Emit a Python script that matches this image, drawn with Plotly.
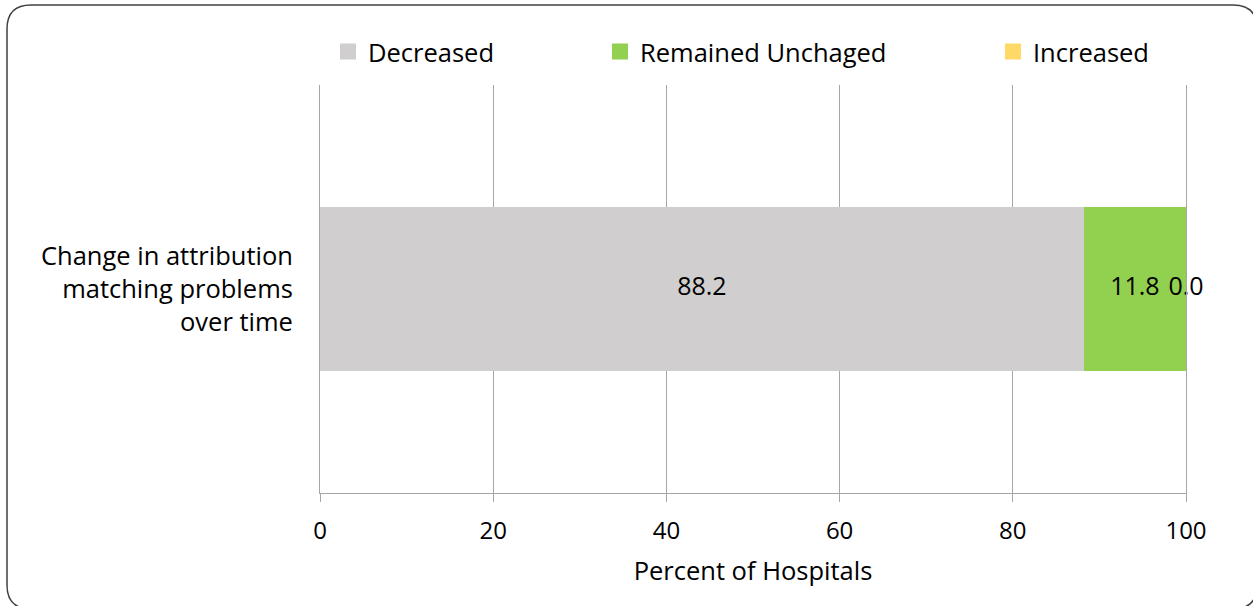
import plotly.graph_objects as go

categories = ["Change in attribution<br>matching problems<br>over time"]
series_names = ["Decreased", "Remained Unchaged", "Increased"]
series_values = [[88.2], [11.8], [0.0]]
series_colors = ["#D0CECE", "#92D050", "#FFD966"]
x_ticks = [0, 20, 40, 60, 80, 100]

FONT = "Open Sans"
W, H = 1253, 606
PL, PT, PR, PB = 320, 85, 1186, 493  # plot area in page pixels
ML, MT, MR, MB = PL, PT, W - PR, H - PB
PW, PH = PR - PL, PB - PT

fig = go.Figure()
cum = [0.0] * len(categories)
label_x, label_y, label_t = [], [], []
legend_names = ["legend", "legend2", "legend3"]
for name, vals, col, lg in zip(series_names, series_values, series_colors, legend_names):
    fig.add_trace(go.Bar(
        y=categories, x=vals, name=name, orientation="h",
        marker=dict(color=col, line=dict(width=0)),
        hoverinfo="x+name", showlegend=False,
    ))
    fig.add_trace(go.Scatter(
        x=[None], y=[None], mode="markers", name=name, legend=lg,
        marker=dict(symbol="square", size=16, color=col),
        showlegend=True, hoverinfo="skip",
    ))
    for i, v in enumerate(vals):
        label_x.append(cum[i] + v / 2)
        label_y.append(categories[i])
        label_t.append(f"{v:.1f}")
        cum[i] += v

fig.add_trace(go.Scatter(
    x=label_x, y=label_y, text=label_t, mode="text",
    textfont=dict(family=FONT, size=25, color="#000000"),
    showlegend=False, hoverinfo="skip", cliponaxis=False,
))

# rounded chart border, in pixels relative to plot-area origin (paper 0,0)
def P(X, Y):
    return f"{X - PL},{PB - Y}"

L, T, R, B, r = 7, 5, 1257, 609, 24
path = (f"M {P(L, T + r)} Q {P(L, T)} {P(L + r, T)} L {P(R - r, T)} "
        f"Q {P(R, T)} {P(R, T + r)} L {P(R, B - r)} Q {P(R, B)} {P(R - r, B)} "
        f"L {P(L + r, B)} Q {P(L, B)} {P(L, B - r)} Z")

text_starts = [368, 640, 1033]
leg_common = dict(
    orientation="h", yanchor="middle", xanchor="left",
    y=1 + (PT - 52) / PH, font=dict(family=FONT, size=25.5, color="#000000"),
    bgcolor="rgba(0,0,0,0)", itemwidth=30,
)
legends = {}
for lg, ts in zip(legend_names, text_starts):
    legends[lg] = dict(leg_common, x=(ts - 40 - PL) / PW)

fig.update_layout(
    width=W, height=H,
    margin=dict(l=ML, r=MR, t=MT, b=MB),
    paper_bgcolor="white", plot_bgcolor="white",
    barmode="stack", bargap=0.6,
    font=dict(family=FONT, size=25.5, color="#000000"),
    xaxis=dict(
        range=[0, 100], tickvals=x_ticks, ticktext=[str(t) for t in x_ticks],
        showgrid=True, gridcolor="#A6A6A6", gridwidth=1,
        showline=True, linecolor="#A6A6A6", linewidth=1,
        ticks="outside", ticklen=8, tickcolor="#A6A6A6",
        ticklabelstandoff=8,
        tickfont=dict(family=FONT, size=24),
        title=dict(text="Percent of Hospitals", font=dict(family=FONT, size=25.5), standoff=17),
        zeroline=False, fixedrange=True,
    ),
    yaxis=dict(
        showgrid=False, showline=True, mirror=True, linecolor="#A6A6A6", linewidth=1,
        ticks="", ticklabelstandoff=21,
        tickfont=dict(family=FONT, size=25.5),
        fixedrange=True, zeroline=False,
    ),
    shapes=[dict(
        type="path", path=path,
        xref="paper", yref="paper", xsizemode="pixel", ysizemode="pixel",
        xanchor=0, yanchor=0,
        line=dict(color="#404040", width=1.5), fillcolor="rgba(0,0,0,0)",
        layer="above",
    )],
    **legends,
)

fig.write_html(
    "out.html",
    config={"displayModeBar": False},
    post_script="document.body.style.margin='0';document.body.style.overflow='hidden';",
)
